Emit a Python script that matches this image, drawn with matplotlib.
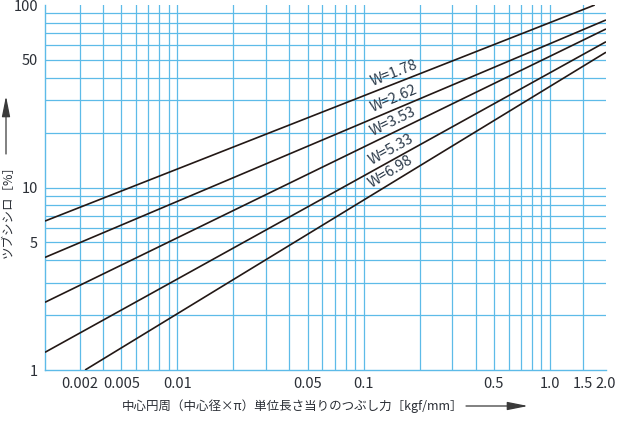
import numpy as np
import matplotlib
matplotlib.use('Agg')
import matplotlib.pyplot as plt
from matplotlib.ticker import FixedLocator, FixedFormatter, NullLocator

plt.rcParams['font.family'] = ['Noto Sans CJK JP', 'DejaVu Sans']

# ---- data ----
w_labels = ['W=1.78', 'W=2.62', 'W=3.53', 'W=5.33', 'W=6.98']
x_start = [0.00195, 0.00195, 0.00195, 0.00195, 0.0032]
y_start = [6.55, 4.14, 2.35, 1.25, 1.0]
x_end = [1.74, 2.0, 2.0, 2.0, 2.0]
y_end = [100.0, 82.8, 73.9, 62.9, 55.1]

xtick_pos = [0.003, 0.005, 0.01, 0.05, 0.1, 0.5, 1.0, 1.5, 2.0]
xtick_labels = ['0.002', '0.005', '0.01', '0.05', '0.1', '0.5', '1.0', '1.5', '2.0']
ytick_pos = [1, 5, 10, 50, 100]
ytick_labels = ['1', '5', '10', '50', '100']

xgrid = [0.003, 0.004, 0.005, 0.006, 0.007, 0.008, 0.009,
         0.01, 0.02, 0.03, 0.04, 0.05, 0.06, 0.07, 0.08, 0.09,
         0.1, 0.2, 0.3, 0.4, 0.5, 0.6, 0.7, 0.8, 0.9, 1.0, 1.5]
ygrid = [2, 3, 4, 5, 6, 7, 8, 9, 10, 20, 30, 40, 50, 60, 70, 80, 90]

label_x = 0.112

xlabel = '中心円周（中心径×π）単位長さ当りのつぶし力［kgf/mm］'
ylabel = 'ツブシシロ［%］'

# ---- styling ----
grid_color = '#5dbbe8'
line_color = '#231815'
text_color = '#2b2f36'
label_color = '#2b3a4a'

W, H = 618, 425
fig = plt.figure(figsize=(W / 100, H / 100), dpi=100)
ax = fig.add_axes([45 / W, 55 / H, 561 / W, 365 / H])
ax.set_xscale('log')
ax.set_yscale('log')
ax.set_xlim(0.00195, 2.0)
ax.set_ylim(1, 100)

for gx in xgrid:
    ax.axvline(gx, color=grid_color, lw=0.9, zorder=1)
for gy in ygrid:
    ax.axhline(gy, color=grid_color, lw=0.9, zorder=1)

for xs, ys, xe, ye in zip(x_start, y_start, x_end, y_end):
    ax.plot([xs, xe], [ys, ye], color=line_color, lw=1.2, zorder=3,
            solid_capstyle='butt')

fig.canvas.draw()
for lab, xs, ys, xe, ye in zip(w_labels, x_start, y_start, x_end, y_end):
    k = (np.log10(ye) - np.log10(ys)) / (np.log10(xe) - np.log10(xs))
    ly = ys * (label_x / xs) ** k
    p1 = ax.transData.transform((xs, ys))
    p2 = ax.transData.transform((xe, ye))
    ang = np.degrees(np.arctan2(p2[1] - p1[1], p2[0] - p1[0]))
    ax.annotate(lab, (label_x, ly), xytext=(0.5, 2.5), textcoords='offset points',
                rotation=ang, rotation_mode='anchor', ha='left', va='bottom',
                fontsize=10.5, color=label_color, zorder=4)

ax.xaxis.set_major_locator(FixedLocator(xtick_pos))
ax.xaxis.set_major_formatter(FixedFormatter(xtick_labels))
ax.xaxis.set_minor_locator(NullLocator())
ax.yaxis.set_major_locator(FixedLocator(ytick_pos))
ax.yaxis.set_major_formatter(FixedFormatter(ytick_labels))
ax.yaxis.set_minor_locator(NullLocator())
ax.tick_params(which='both', length=0, labelsize=10.5, labelcolor=text_color)
ax.tick_params(axis='x', pad=5)
ax.tick_params(axis='y', pad=5)

for s in ['top', 'right']:
    ax.spines[s].set_visible(False)
for s in ['left', 'bottom']:
    ax.spines[s].set_color(grid_color)
    ax.spines[s].set_linewidth(1.0)

# axis titles with arrows
fig.text(122 / W, 1 - 406 / H, xlabel, ha='left', va='center',
         fontsize=9.0, color=text_color)
fig.text(8 / W, 1 - 208 / H, ylabel, ha='center', va='center',
         rotation=90, fontsize=9.0, color=text_color)

arrow_props = dict(arrowstyle='-|>,head_length=0.9,head_width=0.18',
                   color='#3a3a3a', lw=0.9, mutation_scale=14,
                   shrinkA=0, shrinkB=0)
ax.annotate('', xy=(528, H - 406), xytext=(466, H - 406),
            xycoords='figure pixels', textcoords='figure pixels',
            arrowprops=arrow_props, annotation_clip=False)
ax.annotate('', xy=(6, H - 96), xytext=(6, H - 154),
            xycoords='figure pixels', textcoords='figure pixels',
            arrowprops=arrow_props, annotation_clip=False)

fig.savefig('out.png', dpi=100)
